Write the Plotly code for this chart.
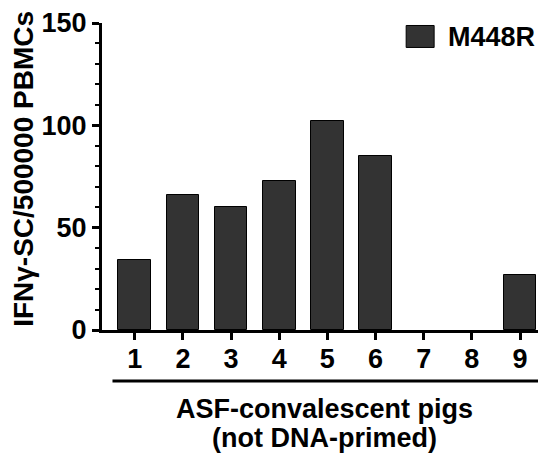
import plotly.graph_objects as go

pigs = ["1", "2", "3", "4", "5", "6", "7", "8", "9"]
m448r = [34, 66, 60, 73, 102, 85, 0, 0, 27]
series_name = "M448R"
y_ticks = [0, 50, 100, 150]
y_title = "IFNγ-SC/500000 PBMCs"
x_title_lines = ["ASF-convalescent pigs", "(not DNA-primed)"]

FONT = "Liberation Sans, Arial, Helvetica, sans-serif"
BAR = "#333333"

# the page body adds an 8px offset; size the figure so it fills the window
OFF = 8
W, H = 546 - OFF, 455 - OFF
L_ref, AX_ref = 101.5, 330.0          # plot-area left and bottom in window pixels
L, R, T = L_ref - OFF, 0, 22.5 - OFF
B = H - (AX_ref - OFF)
pw, ph = W - L - R, H - T - B

fig = go.Figure()
fig.add_trace(go.Bar(
    x=list(range(1, len(pigs) + 1)), y=m448r, name=series_name,
    marker=dict(color=BAR,
                line=dict(color="#000000", width=[1 if v > 0 else 0 for v in m448r])),
    width=0.68, showlegend=False,
))

fig.update_layout(
    width=W, height=H,
    margin=dict(l=L, r=R, t=T, b=B, pad=0),
    paper_bgcolor="white", plot_bgcolor="white",
    font=dict(family=FONT, size=27, color="black"),
    bargap=0,
)
fig.update_xaxes(
    range=[0.32, 9.54],
    tickmode="array", tickvals=list(range(1, len(pigs) + 1)), ticktext=pigs,
    showline=True, linecolor="black", linewidth=3,
    ticks="outside", ticklen=7, tickwidth=3, tickcolor="black",
    ticklabelstandoff=-4,
    showgrid=False, zeroline=False,
    tickfont=dict(family=FONT, size=27, color="black", weight="bold"),
)
fig.update_yaxes(
    range=[0, 150],
    tickmode="array", tickvals=y_ticks,
    showline=True, linecolor="black", linewidth=3,
    ticks="outside", ticklen=7, tickwidth=3, tickcolor="black",
    minor=dict(dtick=10, ticks="outside", ticklen=4, tickwidth=2, tickcolor="black"),
    showgrid=False, zeroline=False,
    tickfont=dict(family=FONT, size=27, color="black", weight="bold"),
)

def px_x(x):  # window px -> paper x
    return (x - L_ref) / pw

def px_y(y):  # window px -> paper y
    return (AX_ref - y) / ph

# group underline
fig.add_shape(type="line", xref="paper", yref="paper",
              x0=px_x(112), x1=1.0, y0=px_y(381), y1=px_y(381),
              line=dict(color="black", width=3))
# x title (two lines)
for line_text, yc in zip(x_title_lines, [409, 438]):
    fig.add_annotation(text="<b>" + line_text + "</b>",
                       xref="paper", yref="paper", x=0.5, y=px_y(yc),
                       xanchor="center", yanchor="middle", showarrow=False,
                       font=dict(family=FONT, size=27, color="black"))
# y title
fig.add_annotation(text="<b>" + y_title + "</b>", textangle=-90,
                   xref="paper", yref="paper", x=px_x(23), y=px_y(169),
                   xanchor="center", yanchor="middle", showarrow=False,
                   font=dict(family=FONT, size=28, color="black"))
# legend (swatch + label)
fig.add_shape(type="rect", xref="paper", yref="paper",
              x0=px_x(406), x1=px_x(434), y0=px_y(47), y1=px_y(25),
              fillcolor=BAR, line=dict(color="black", width=1))
fig.add_annotation(text="<b>" + series_name + "</b>", xref="paper", yref="paper",
                   x=px_x(446), y=px_y(37), xanchor="left", yanchor="middle",
                   showarrow=False, font=dict(family=FONT, size=27, color="black"))

fig.write_html("out.html")
